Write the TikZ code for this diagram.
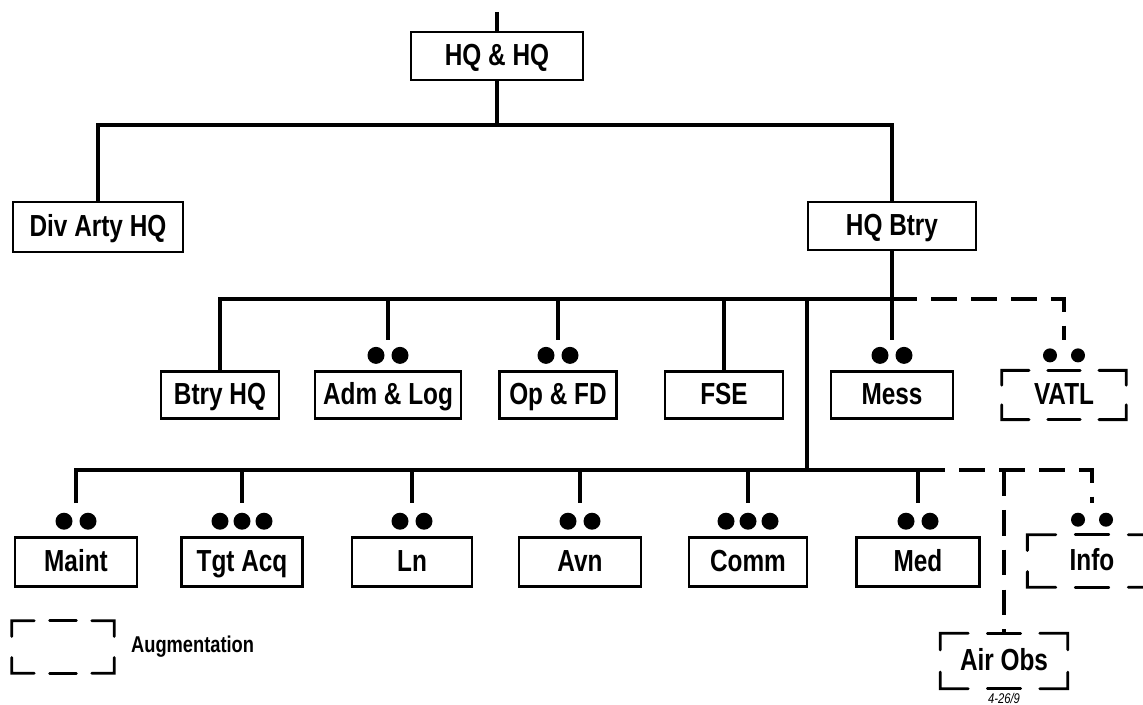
\documentclass[tikz,border=0pt]{standalone}
\usepackage{fontspec}
\setmainfont{Liberation Sans}[FakeStretch=0.8]
\usetikzlibrary{positioning,calc}

\newcommand\twodots[1]{\fill ($(#1.north)+(-12,-15)$) circle (8.5) ($(#1.north)+(12,-15)$) circle (8.5);}
\newcommand\threedots[1]{\fill ($(#1.north)+(-22,-15)$) circle (8.5) ($(#1.north)+(0,-15)$) circle (8.5) ($(#1.north)+(22,-15)$) circle (8.5);}
\newcommand\augdots[1]{\fill ($(#1.north)+(-14,-15)$) circle (7) ($(#1.north)+(14,-15)$) circle (7);}
% dashed frame: corner brackets plus a dash in the middle of each long side
\newcommand\augframe[1]{%
  \draw[augline] ($(#1.north west)!0.3!(#1.south west)$) -- (#1.north west) -- ($(#1.north west)!0.22!(#1.north east)$);
  \draw[augline] ($(#1.north east)!0.22!(#1.north west)$) -- (#1.north east) -- ($(#1.north east)!0.3!(#1.south east)$);
  \draw[augline] ($(#1.south east)!0.3!(#1.north east)$) -- (#1.south east) -- ($(#1.south east)!0.22!(#1.south west)$);
  \draw[augline] ($(#1.south west)!0.22!(#1.south east)$) -- (#1.south west) -- ($(#1.south west)!0.3!(#1.north west)$);
  \draw[augline] ($(#1.north west)!0.37!(#1.north east)$) -- ($(#1.north west)!0.63!(#1.north east)$);
  \draw[augline] ($(#1.south west)!0.37!(#1.south east)$) -- ($(#1.south west)!0.63!(#1.south east)$);}

\begin{document}
\begin{tikzpicture}[x=0.03cm,y=-0.03cm,
  unit/.style={draw,line width=2.2pt,inner sep=0pt,minimum height=1.4cm,text height=18pt,text depth=1pt,font=\bfseries\fontsize{26}{28}\selectfont},
  aug/.style={unit,draw=none},
  augline/.style={line width=2.4pt,line cap=round},
  link/.style={line width=3.8pt},
  auglink/.style={line width=3.8pt,dash pattern=on 22pt off 12pt}]
\useasboundingbox (0,0) rectangle (1143,705);
% top of the tree
\coordinate (top) at (497,12);
\node[unit,minimum width=5.16cm,minimum height=1.44cm] (hq) at (497,56) {HQ \& HQ};
\node[unit,minimum width=5.1cm,minimum height=1.5cm] (div) at (98,227) {Div Arty HQ};
\node[unit,minimum width=5.04cm,minimum height=1.44cm] (btry) at (892,226) {HQ Btry};
\coordinate (j1) at (497,125);
\draw[link] (top) -- (hq.north);
\draw[link] (hq.south) -- (j1);
\draw[link] (div.north) |- (j1) -| (btry.north);
% second row
\node[unit,minimum width=3.54cm] (btryhq) at (220,395) {Btry HQ};
\node[unit,minimum width=4.38cm] (adm) at (388,395) {Adm \& Log};
\node[unit,minimum width=3.51cm] (opfd) at (558,395) {Op \& FD};
\node[unit,minimum width=3.54cm] (fse) at (724,395) {FSE};
\node[unit,minimum width=3.66cm] (mess) at (892,395) {Mess};
\node[aug,minimum width=3.66cm] (vatl) at (1064,395) {VATL};
\augframe{vatl}
\coordinate (j2) at (892,299);
\coordinate (j2end) at (915,299);
\draw[link] (btry.south) -- (j2);
\draw[link] (btryhq.north) |- (j2end);
\draw[link] (j2) -- ($(mess.north)+(0,-30)$);
\draw[link] (adm.north |- j2) -- ($(adm.north)+(0,-30)$);
\draw[link] (opfd.north |- j2) -- ($(opfd.north)+(0,-30)$);
\draw[link] (fse.north |- j2) -- (fse.north);
\draw[auglink,dash phase=20pt] (j2end) -| ($(vatl.north)+(0,-30)$);
\twodots{adm}
\twodots{opfd}
\twodots{mess}
\augdots{vatl}
% third row
\node[unit,minimum width=3.66cm,minimum height=1.47cm] (maint) at (76,562) {Maint};
\node[unit,minimum width=3.63cm,minimum height=1.47cm] (tgt) at (242,562) {Tgt Acq};
\node[unit,minimum width=3.6cm,minimum height=1.47cm] (ln) at (412,562) {Ln};
\node[unit,minimum width=3.66cm,minimum height=1.47cm] (avn) at (580,562) {Avn};
\node[unit,minimum width=3.54cm,minimum height=1.47cm] (comm) at (748,562) {Comm};
\node[unit,minimum width=3.69cm,minimum height=1.47cm] (med) at (918,562) {Med};
\node[aug,minimum width=3.8cm,minimum height=1.5cm] (info) at (1092,561) {Info};
\node[aug,minimum width=3.75cm,minimum height=1.59cm] (airobs) at (1004,661) {Air Obs};
\augframe{info}
\augframe{airobs}
\node[below=0.12cm of airobs,inner sep=0pt,font=\itshape\fontsize{12}{13}\selectfont] (note) {4-26/9};
\coordinate (j3) at (807,470);
\coordinate (j3end) at (943,470);
\draw[link] (j3 |- j2) -- (j3);
\draw[link] ($(maint.north)+(0,-33)$) |- (j3end);
\draw[link] (med.north |- j3) -- ($(med.north)+(0,-33)$);
\draw[link] (tgt.north |- j3) -- ($(tgt.north)+(0,-33)$);
\draw[link] (ln.north |- j3) -- ($(ln.north)+(0,-33)$);
\draw[link] (avn.north |- j3) -- ($(avn.north)+(0,-33)$);
\draw[link] (comm.north |- j3) -- ($(comm.north)+(0,-33)$);
\draw[auglink,dash phase=20pt] (j3end) -| ($(info.north)+(0,-32)$);
\draw[auglink] (airobs.north |- j3) -- (airobs.north);
\twodots{maint}
\threedots{tgt}
\twodots{ln}
\twodots{avn}
\threedots{comm}
\twodots{med}
\augdots{info}
% legend
\node[aug,minimum width=3cm,minimum height=1.5cm] (legbox) at (63,647) {};
\augframe{legbox}
\node[right=0.5cm of legbox,inner sep=0pt,font=\bfseries\fontsize{19.5}{21}\selectfont] (legtext) {Augmentation};
\end{tikzpicture}
\end{document}
